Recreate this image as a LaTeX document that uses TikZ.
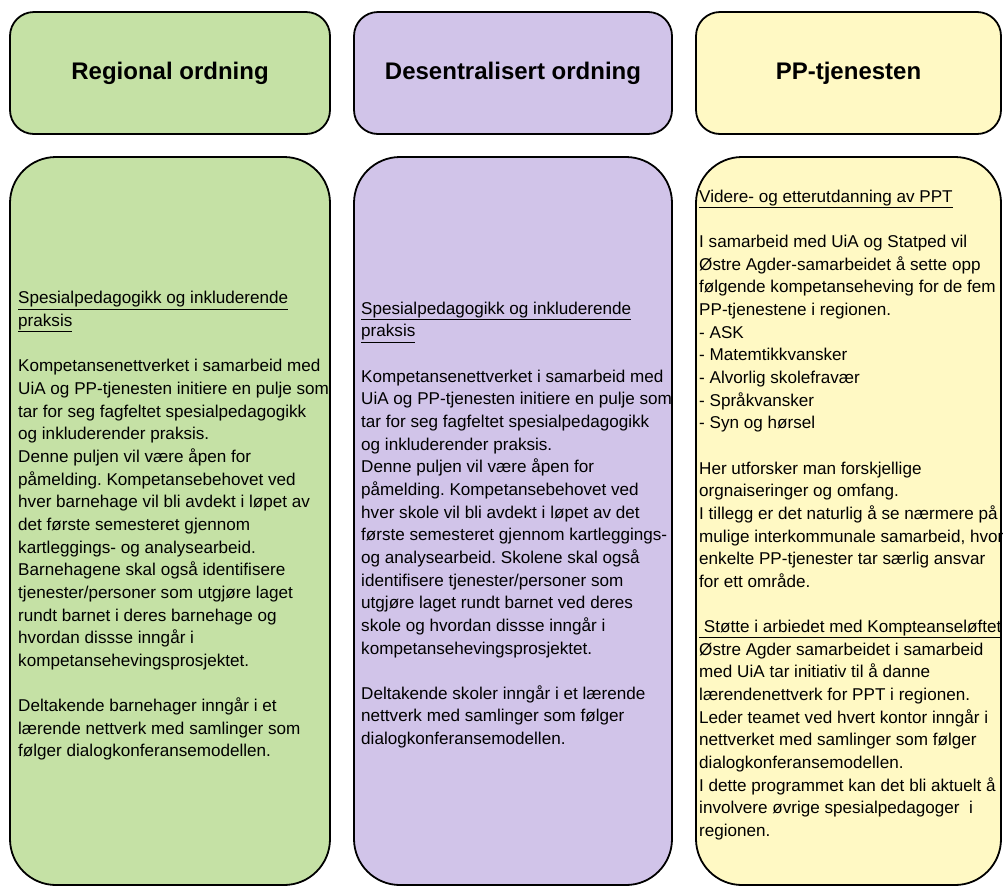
\documentclass[tikz,border=0pt]{standalone}
\usepackage{fontspec}
\setmainfont{Liberation Sans}
\frenchspacing
\definecolor{regionalgreen}{HTML}{C5E1A5}
\definecolor{desentralpurple}{HTML}{D1C4E9}
\definecolor{ppyellow}{HTML}{FFF9C4}
\begin{document}
\begin{tikzpicture}[x=1pt,y=-1pt]
    \tikzstyle{headbox} = [draw=black, line width=1.8pt, rounded corners=24pt, minimum height=122pt, font=\fontsize{24}{28}\selectfont\bfseries]
    \tikzstyle{columnbox} = [draw=black, line width=1.8pt, rounded corners=46pt, minimum height=728pt]
    \tikzstyle{bodytext} = [anchor=west, align=left, inner sep=0pt, font=\fontsize{17.1}{22.65}\selectfont]
    \useasboundingbox (0,0) rectangle (1003,887);
    \clip (0,0) rectangle (1003,887);
    \node[headbox, fill=regionalgreen, minimum width=320pt] (regional) at (170,73) {Regional ordning};
    \node[headbox, fill=desentralpurple, minimum width=318pt] (desentral) at (513,73) {Desentralisert ordning};
    \node[headbox, fill=ppyellow, minimum width=305pt] (pptj) at (848.5,73) {PP-tjenesten};
    \node[columnbox, fill=regionalgreen, minimum width=320pt] (regionalcol) at (170,521) {};
    \node[columnbox, fill=desentralpurple, minimum width=318pt] (desentralcol) at (513,521) {};
    \node[columnbox, fill=ppyellow, minimum width=305pt] (pptjcol) at (848.5,521) {};
    \node[bodytext] (regionaltext) at (18,526) {
        \underline{Spesialpedagogikk og inkluderende}\\
        \underline{praksis}\\[22.65pt]
        Kompetansenettverket i samarbeid med\\
        UiA og PP-tjenesten initiere en pulje som\\
        tar for seg fagfeltet spesialpedagogikk\\
        og inkluderender praksis.\\
        Denne puljen vil være åpen for\\
        påmelding. Kompetansebehovet ved\\
        hver barnehage vil bli avdekt i løpet av\\
        det første semesteret gjennom\\
        kartleggings- og analysearbeid.\\
        Barnehagene skal også identifisere\\
        tjenester/personer som utgjøre laget\\
        rundt barnet i deres barnehage og\\
        hvordan dissse inngår i\\
        kompetansehevingsprosjektet.\\[22.65pt]
        Deltakende barnehager inngår i et\\
        lærende nettverk med samlinger som\\
        følger dialogkonferansemodellen.};
    \node[bodytext] (desentraltext) at (361,525) {
        \underline{Spesialpedagogikk og inkluderende}\\
        \underline{praksis}\\[22.65pt]
        Kompetansenettverket i samarbeid med\\
        UiA og PP-tjenesten initiere en pulje som\\
        tar for seg fagfeltet spesialpedagogikk\\
        og inkluderender praksis.\\
        Denne puljen vil være åpen for\\
        påmelding. Kompetansebehovet ved\\
        hver skole vil bli avdekt i løpet av det\\
        første semesteret gjennom kartleggings-\\
        og analysearbeid. Skolene skal også\\
        identifisere tjenester/personer som\\
        utgjøre laget rundt barnet ved deres\\
        skole og hvordan dissse inngår i\\
        kompetansehevingsprosjektet.\\[22.65pt]
        Deltakende skoler inngår i et lærende\\
        nettverk med samlinger som følger\\
        dialogkonferansemodellen.};
    \node[bodytext] (pptjtext) at (699,515) {
        \underline{Videre- og etterutdanning av PPT}\\[22.65pt]
        I samarbeid med UiA og Statped vil\\
        Østre Agder-samarbeidet å sette opp\\
        følgende kompetanseheving for de fem\\
        PP-tjenestene i regionen.\\
        - ASK\\
        - Matemtikkvansker\\
        - Alvorlig skolefravær\\
        - Språkvansker\\
        - Syn og hørsel\\[22.65pt]
        Her utforsker man forskjellige\\
        orgnaiseringer og omfang.\\
        I tillegg er det naturlig å se nærmere på\\
        mulige interkommunale samarbeid, hvor\\
        enkelte PP-tjenester tar særlig ansvar\\
        for ett område.\\[22.65pt]
        \underline{\ Støtte i arbiedet med Kompteanseløftet}\\
        Østre Agder samarbeidet i samarbeid\\
        med UiA tar initiativ til å danne\\
        lærendenettverk for PPT i regionen.\\
        Leder teamet ved hvert kontor inngår i\\
        nettverket med samlinger som følger\\
        dialogkonferansemodellen.\\
        I dette programmet kan det bli aktuelt å\\
        involvere øvrige spesialpedagoger \ i\\
        regionen.};
\end{tikzpicture}
\end{document}
